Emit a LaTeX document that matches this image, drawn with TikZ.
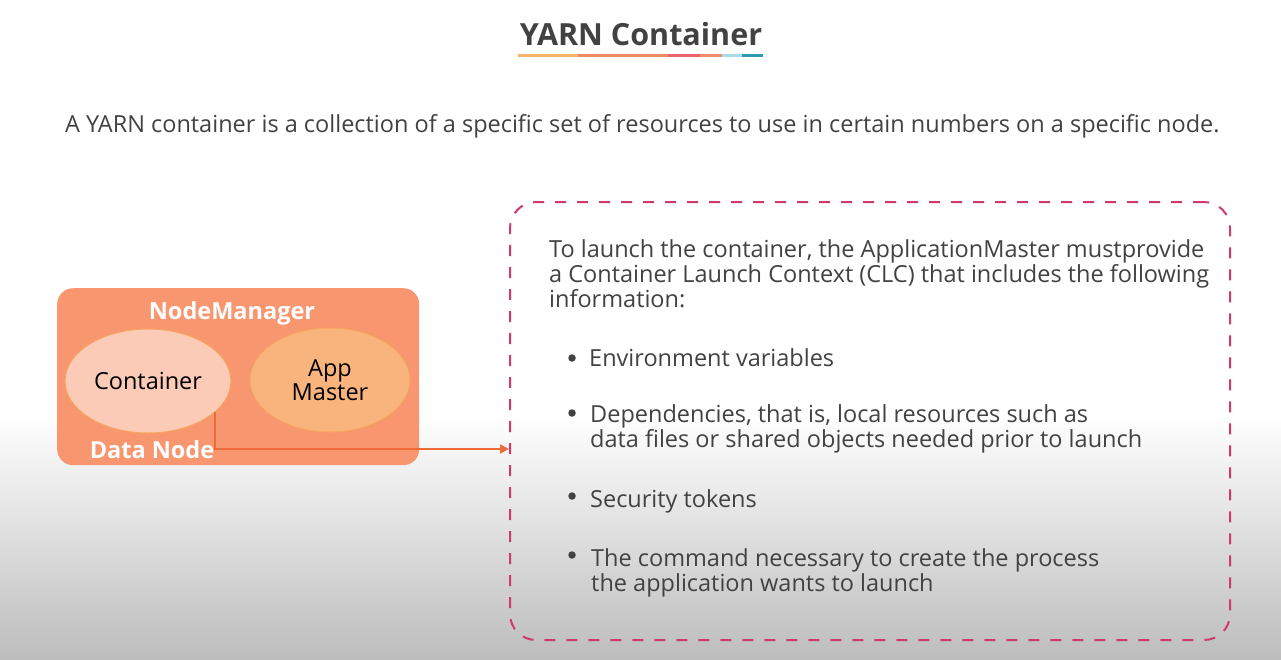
\documentclass[tikz,border=0pt]{standalone}
\usepackage{fontspec}
\setmainfont{Open Sans}
\usetikzlibrary{shapes.geometric,arrows.meta}
\definecolor{txt}{HTML}{424242}
\definecolor{boxorange}{HTML}{F7966F}
\definecolor{contfill}{HTML}{FBCBB7}
\definecolor{appfill}{HTML}{F9B47E}
\definecolor{ellborder}{HTML}{F6A560}
\definecolor{arrowc}{HTML}{EE6A38}
\definecolor{dashc}{HTML}{CF3A6A}
\definecolor{bggray}{HTML}{BDBDBD}
\tikzset{
  body/.style={text=txt, font=\fontsize{23.5}{25}\selectfont, inner sep=0pt},
  whitebold/.style={text=white, font=\fontsize{23.5}{25}\selectfont\bfseries, inner sep=0pt},
  ell/.style={ellipse, draw=ellborder, line width=1pt, minimum width=166pt, minimum height=104pt, inner sep=0pt, text=black, font=\fontsize{23.5}{20}\selectfont, align=center},
  bullet/.style={circle, fill=txt, inner sep=0pt, minimum size=7.5pt},
}
\begin{document}
\begin{tikzpicture}[x=1pt,y=-1pt]
\useasboundingbox (0,0) rectangle (1281,659);
\fill[white] (0,0) rectangle (1281,659);
\shade[top color=white, bottom color=bggray] (0,415) rectangle (1281,659);
% title
\node[text=txt, font=\fontsize{30.5}{32}\selectfont\bfseries, inner sep=0pt, anchor=base] (title) at (641,45) {YARN Container};
\foreach \a/\b/\c in {518/578/F6B46C, 578/668/EE8A64, 668/700/E8656B, 700/722/EE8C6E, 722/742/A8DCE8, 742/763/2E9BB5}{
  \definecolor{segc}{HTML}{\c}
  \fill[segc] (\a,53.5) rectangle (\b,57);
}
\node[body, anchor=base west] (intro) at (65,132) {A YARN container is a collection of a specific set of resources to use in certain numbers on a specific node.};
% data node
\node[fill=boxorange, rounded corners=16pt, minimum width=362pt, minimum height=177pt, anchor=north west, inner sep=0pt] (dn) at (57,288) {};
\node[whitebold, anchor=base] (nm) at (232,319) {NodeManager};
\node[whitebold, anchor=base] (dnl) at (152,458) {Data Node};
\node[ell, fill=contfill] (cont) at (148,381) {Container};
\node[ell, fill=appfill, minimum width=160pt] (app) at (330,380) {App\\Master};
% dashed box
\node[draw=dashc, dashed, dash pattern=on 11pt off 11pt, line width=2pt, rounded corners=26pt, minimum width=720pt, minimum height=438pt, anchor=north west, inner sep=0pt] (info) at (509,201) {};
\coordinate (start) at (215,412);
\draw[arrowc, line width=2pt, -{Triangle[length=9pt,width=9pt]}] (start) |- (info.west |- 0,449);
% info text
\node[body, anchor=base west, align=left] (p1) at (549,257) {To launch the container, the ApplicationMaster mustprovide};
\node[body, anchor=base west] (p2) at (549,282) {a Container Launch Context (CLC) that includes the following};
\node[body, anchor=base west] (p3) at (549,307) {information:};
\node[bullet] (b1) at (572,358) {};
\node[body, anchor=base west] (t1) at (589,366) {Environment variables};
\node[bullet] (b2) at (572,413) {};
\node[body, anchor=base west] (t2a) at (590,422) {Dependencies, that is, local resources such as};
\node[body, anchor=base west] (t2b) at (590,447) {data files or shared objects needed prior to launch};
\node[bullet] (b3) at (572,496) {};
\node[body, anchor=base west] (t3) at (590,507) {Security tokens};
\node[bullet] (b4) at (572,555) {};
\node[body, anchor=base west] (t4a) at (591,566) {The command necessary to create the process};
\node[body, anchor=base west] (t4b) at (591,591) {the application wants to launch};
\end{tikzpicture}
\end{document}
